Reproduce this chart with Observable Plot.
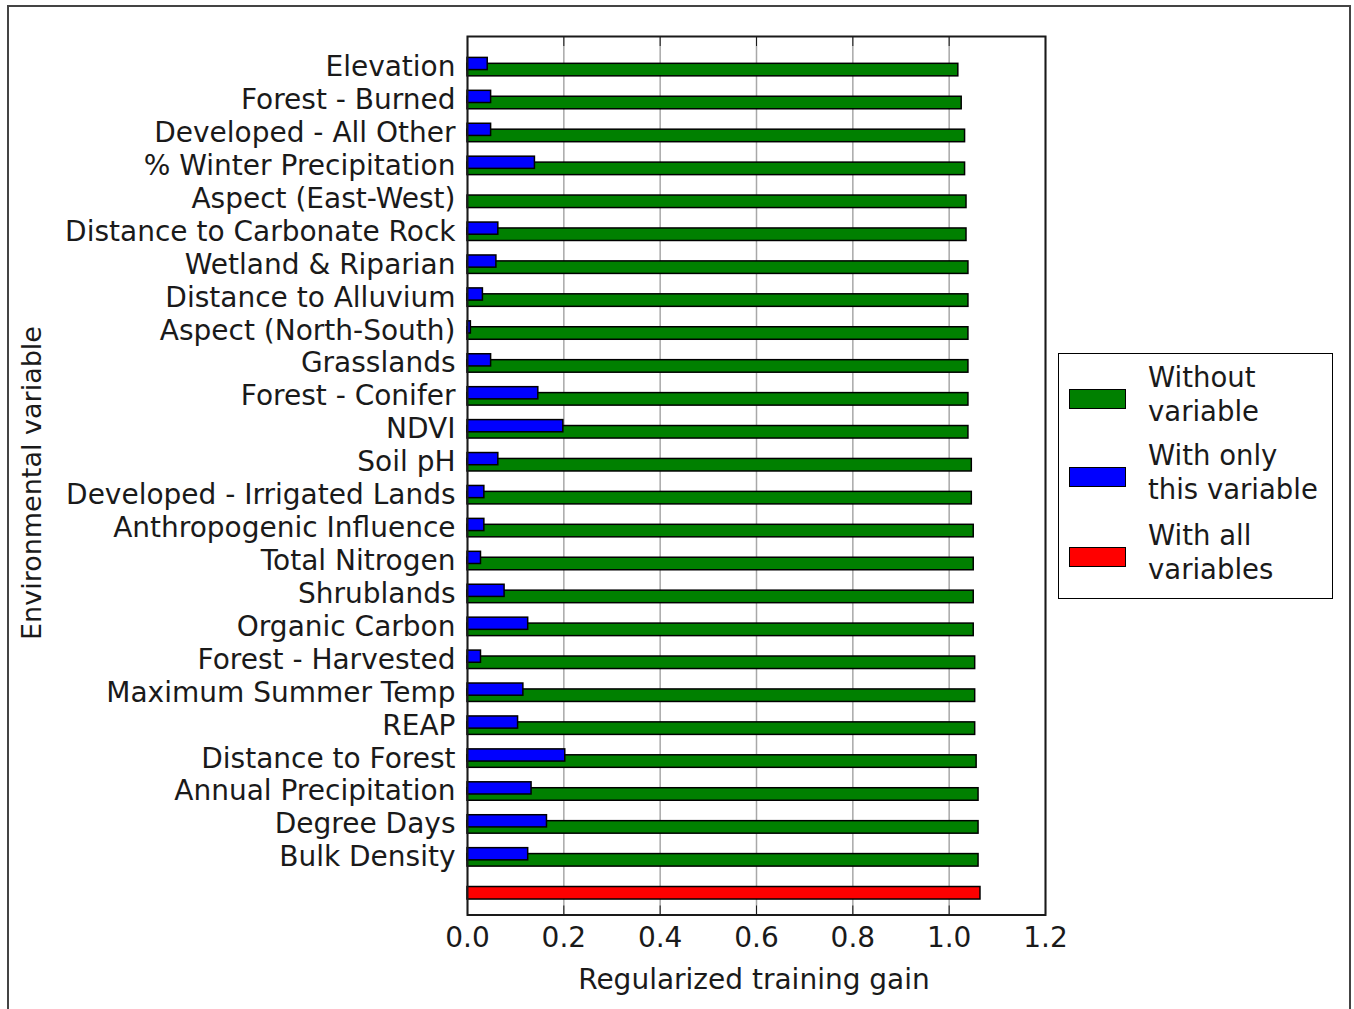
<!DOCTYPE html>
<html>
<head>
<meta charset="utf-8">
<script src="https://cdn.jsdelivr.net/npm/d3@7"></script>
<script src="https://cdn.jsdelivr.net/npm/@observablehq/plot@0.6"></script>
<style>
  body { margin: 0; background: #fff; font-family: "DejaVu Sans", sans-serif; color: #1a1a1a; }
  #wrap { position: relative; width: 1354px; height: 1009px; overflow: hidden; background: #fff; }
  #outer { position: absolute; left: 7px; top: 5px; width: 1344px; height: 1100px; border: 2px solid #444; box-sizing: border-box; }
  #chart { position: absolute; left: 0; top: 0; }
  .lbl { position: absolute; font-size: 28px; line-height: 1; white-space: nowrap; }
  #legend { position: absolute; left: 1058px; top: 353px; width: 275px; height: 246px; border: 1.5px solid #000; box-sizing: border-box; background: #fff; }
  .sw { position: absolute; left: 10px; width: 57px; height: 20px; border: 1.5px solid #000; box-sizing: border-box; }
  .lt { position: absolute; left: 89px; font-size: 27.5px; line-height: 34px; white-space: nowrap; }
</style>
</head>
<body>
<div id="wrap">
  <div id="outer"></div>
  <div id="chart"></div>
  <div class="lbl" id="xlabel" style="left:754px; top:980px; transform: translate(-50%,-50%);"></div>
  <div class="lbl" id="ylabel" style="left:31px; top:483px; font-size:27px; transform: translate(-50%,-50%) rotate(-90deg);"></div>
  <div id="legend"></div>
</div>
<script>
// ---- data ----
const variables = [
  "Elevation", "Forest - Burned", "Developed - All Other", "% Winter Precipitation",
  "Aspect (East-West)", "Distance to Carbonate Rock", "Wetland & Riparian", "Distance to Alluvium",
  "Aspect (North-South)", "Grasslands", "Forest - Conifer", "NDVI", "Soil pH",
  "Developed - Irrigated Lands", "Anthropogenic Influence", "Total Nitrogen", "Shrublands",
  "Organic Carbon", "Forest - Harvested", "Maximum Summer Temp", "REAP", "Distance to Forest",
  "Annual Precipitation", "Degree Days", "Bulk Density"
];
const withoutVariable = [
  1.019, 1.026, 1.033, 1.033, 1.036, 1.036, 1.040, 1.040, 1.040, 1.040, 1.040, 1.040, 1.047,
  1.047, 1.051, 1.051, 1.051, 1.051, 1.054, 1.054, 1.054, 1.057, 1.061, 1.061, 1.061
];
const withOnlyVariable = [
  0.042, 0.049, 0.049, 0.140, 0.000, 0.064, 0.060, 0.032, 0.007, 0.049, 0.147, 0.199, 0.064,
  0.035, 0.035, 0.028, 0.077, 0.126, 0.028, 0.116, 0.105, 0.203, 0.133, 0.165, 0.126
];
const withAllVariables = 1.065;
const xTicks = [0, 0.2, 0.4, 0.6, 0.8, 1.0, 1.2];
const seriesNames = ["Without variable", "With only this variable", "With all variables"];
const seriesColors = ["#008000", "#0000ff", "#ff0000"];

// ---- tables ----
const rows = variables.map((name, i) => ({name, i, without: withoutVariable[i], only: withOnlyVariable[i]}));
const allRow = [{i: variables.length, value: withAllVariables}];

const font = "DejaVu Sans";
const chart = Plot.plot({
  width: 1354,
  height: 1009,
  marginLeft: 467,
  marginRight: 309,
  marginTop: 36,
  marginBottom: 94.5,
  style: {fontFamily: font, fontSize: "28px", color: "#1a1a1a", background: "transparent"},
  x: {domain: [0, 1.2], label: null},
  y: {domain: [25.75, -0.93], label: null},
  marks: [
    Plot.gridX(xTicks, {stroke: "#a8a8a8", strokeOpacity: 1, strokeWidth: 1.5}),
    Plot.rectX(rows, {x1: 0, x2: "without", y1: d => d.i - 0.10, y2: d => d.i + 0.28, fill: seriesColors[0], stroke: "#000", strokeWidth: 1.5}),
    Plot.rectX(rows.filter(d => d.only > 0), {x1: 0, x2: "only", y1: d => d.i - 0.28, y2: d => d.i + 0.09, fill: seriesColors[1], stroke: "#000", strokeWidth: 1.5}),
    Plot.rectX(allRow, {x1: 0, x2: "value", y1: d => d.i - 0.10, y2: d => d.i + 0.28, fill: seriesColors[2], stroke: "#000", strokeWidth: 1.5}),
    Plot.frame({stroke: "#1a1a1a", strokeWidth: 2}),
    Plot.axisX(xTicks, {anchor: "bottom", tickSize: -9, tickPadding: 21, tickFormat: d3.format(".1f"), label: null, fontSize: 28, stroke: "#1a1a1a"}),
    Plot.axisX(xTicks, {anchor: "top", tickSize: -9, tickFormat: () => "", label: null, stroke: "#1a1a1a"}),
    Plot.axisY(d3.range(variables.length), {anchor: "left", tickSize: 0, tickPadding: 12, tickFormat: i => variables[i], label: null, fontSize: 28})
  ]
});
document.getElementById("chart").appendChild(chart);

document.getElementById("xlabel").textContent = "Regularized training gain";
document.getElementById("ylabel").textContent = "Environmental variable";

// ---- legend ----
const legend = document.getElementById("legend");
const legendLines = [["Without", "variable"], ["With only", "this variable"], ["With all", "variables"]];
const swTop = [34.5, 113, 192.5];
seriesNames.forEach((name, k) => {
  const sw = document.createElement("div");
  sw.className = "sw";
  sw.style.top = swTop[k] + "px";
  sw.style.background = seriesColors[k];
  sw.title = name;
  legend.appendChild(sw);
  const t = document.createElement("div");
  t.className = "lt";
  t.style.top = (swTop[k] + 10 - 39) + "px";
  t.innerHTML = legendLines[k].join("<br>");
  legend.appendChild(t);
});
</script>
</body>
</html>
